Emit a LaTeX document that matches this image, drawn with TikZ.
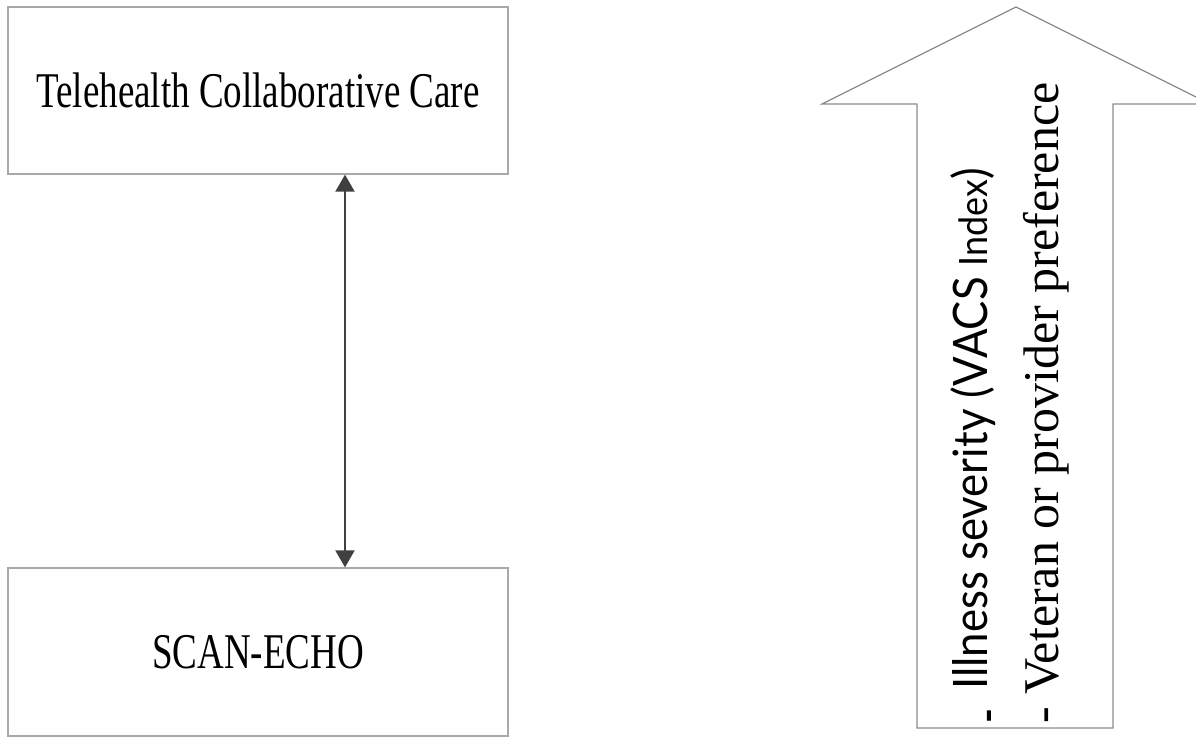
\documentclass[tikz,border=0pt]{standalone}
\usepackage{fontspec}
\usepackage{graphicx}
\setmainfont{Liberation Serif}
\newfontfamily\latofont{Lato}
\usetikzlibrary{arrows.meta}
\definecolor{boxgray}{HTML}{A8A8A8}
\definecolor{arrowgray}{HTML}{8C8C8C}
\definecolor{conngray}{HTML}{404040}
\newsavebox\fitbox
\newlength\fitlen
\newcommand\fitto[2]{\sbox\fitbox{#2}\setlength\fitlen{\wd\fitbox}\pgfmathsetmacro\fitsc{#1/\fitlen}\scalebox{\fitsc}[1]{\usebox\fitbox}}
\begin{document}
\begin{tikzpicture}[x=1pt,y=-1pt,
  box/.style={draw=boxgray, line width=1.3pt, minimum width=500pt, inner sep=0pt,
    font=\fontsize{50pt}{50pt}\selectfont},
  conn/.style={draw=conngray, line width=2pt,
    {Triangle[width=19pt,length=17pt]}-{Triangle[width=19pt,length=17pt]}},
  bigarrow/.style={draw=arrowgray, line width=1.3pt, line join=miter},
  vtext/.style={rotate=90, inner sep=0pt}]
\useasboundingbox (0,0) rectangle (1196,737);
\clip (0,0) rectangle (1196,737);
\fill[white] (0,0) rectangle (1196,737);

\node[box, minimum height=167pt] (tcc) at (258,90.5) {\scalebox{0.74}[1]{Telehealth Collaborative Care}};
\node[box, minimum height=168pt] (scan) at (258,652) {\scalebox{0.74}[1]{SCAN-ECHO}};
\coordinate (ax) at (345,0);
\draw[conn] (tcc.south -| ax) -- (scan.north -| ax);

\draw[bigarrow] (917,728) -- (917,104) -- (822,104) -- (1016,7) -- (1210,104) -- (1113,104) -- (1113,728) -- cycle;

\node[vtext, anchor=base, font=\latofont\bfseries\fontsize{40pt}{44pt}\selectfont] (d1) at (1001,716) {-};
\node[vtext, anchor=base west, font=\latofont\fontsize{47.5pt}{50pt}\selectfont] (l1) at (987,690)
  {\fitto{522}{Illness severity (VACS {\fontsize{39pt}{42pt}\selectfont Index})}};
\node[vtext, anchor=base west, font=\fontsize{50pt}{52pt}\selectfont] (l2) at (1058,724)
  {- Veteran or provider preference};
\end{tikzpicture}
\end{document}
